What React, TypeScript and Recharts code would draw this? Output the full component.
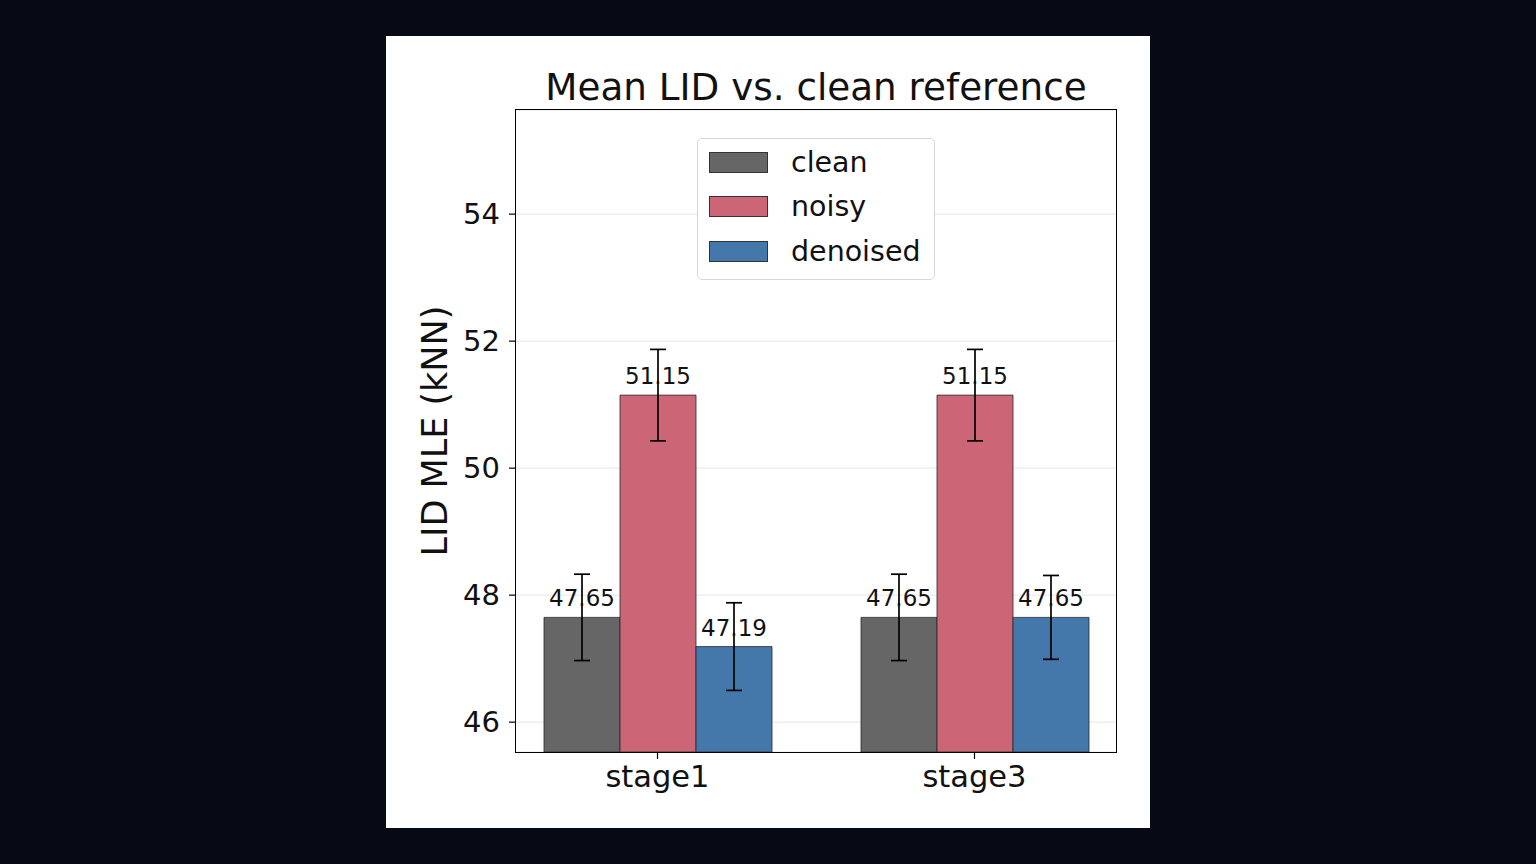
import { BarChart, Bar, XAxis, YAxis, CartesianGrid, ErrorBar, LabelList } from 'recharts';

const stages = ['stage1', 'stage3'];
const cleanValues = [47.65, 47.65];
const noisyValues = [51.15, 51.15];
const denoisedValues = [47.19, 47.65];
const cleanErrors = [0.68, 0.68];
const noisyErrors = [0.72, 0.72];
const denoisedErrors = [0.69, 0.66];
const yTicks = [46, 48, 50, 52, 54];

const seriesNames = ['clean', 'noisy', 'denoised'];
const seriesColors = ['#666666', '#cc6677', '#4477aa'];

const FONT = '"DejaVu Sans", sans-serif';

const chartData = stages.map((stage, i) => ({
  stage,
  clean: cleanValues[i],
  noisy: noisyValues[i],
  denoised: denoisedValues[i],
  cleanErr: cleanErrors[i],
  noisyErr: noisyErrors[i],
  denoisedErr: denoisedErrors[i],
}));

// legend drawn by hand so it doesn't take space from the plot area
const LegendBox = () => (
  <div
    style={{
      position: 'absolute',
      left: 311,
      top: 102,
      width: 238,
      height: 142,
      border: '1px solid #d6d6d6',
      borderRadius: 5,
      background: 'rgba(255,255,255,0.85)',
      boxSizing: 'border-box',
      paddingTop: 1,
      fontFamily: FONT,
    }}
  >
    {seriesNames.map((name, i) => (
      <div key={name} style={{ display: 'flex', alignItems: 'center', height: 44.5 }}>
        <div
          style={{
            width: 59,
            height: 21,
            marginLeft: 11,
            background: seriesColors[i],
            border: '1px solid #333',
            boxSizing: 'border-box',
          }}
        />
        <span style={{ marginLeft: 23, fontSize: 28.5, color: '#111' }}>{name}</span>
      </div>
    ))}
  </div>
);

const YLabel = () => (
  <text
    x={49}
    y={395}
    transform="rotate(-90 49 395)"
    textAnchor="middle"
    dominantBaseline="central"
    fontSize={35}
    fontFamily={FONT}
    fill="#111"
  >
    LID MLE (kNN)
  </text>
);

export default function App() {
  const barLabel = { position: 'top' as const, offset: 11, fontSize: 23, fill: '#111', fontFamily: FONT };
  const fmt = (v: any) => Number(v).toFixed(2);
  return (
    <div style={{ position: 'absolute', left: 0, top: 0, width: 1536, height: 864, background: '#060a14' }}>
      <div style={{ position: 'absolute', left: 386, top: 36, width: 764, height: 792, background: '#fff' }}>
        <div
          style={{
            position: 'absolute',
            left: 130,
            top: 33,
            width: 600,
            textAlign: 'center',
            fontFamily: FONT,
            fontSize: 37.3,
            lineHeight: '37px',
            color: '#111',
            whiteSpace: 'nowrap',
          }}
        >
          Mean LID vs. clean reference
        </div>
        <BarChart
          width={764}
          height={792}
          data={chartData}
          margin={{ top: 74, right: 34, left: 0, bottom: 40 }}
          barGap={0}
          style={{ fontFamily: FONT }}
        >
          <CartesianGrid vertical={false} stroke="#e6e6e6" strokeWidth={1} />
          <XAxis
            dataKey="stage"
            height={36}
            padding={{ left: -17, right: -17 }}
            axisLine={false}
            tickLine={{ stroke: '#000', strokeWidth: 1.2 }}
            tickSize={7}
            tickMargin={6}
            tick={{ fontSize: 30.5, fill: '#111', fontFamily: FONT }}
          />
          <YAxis
            type="number"
            width={130}
            domain={[45.53, 55.64]}
            ticks={yTicks}
            allowDataOverflow
            axisLine={false}
            tickLine={{ stroke: '#000', strokeWidth: 1.2 }}
            tickSize={7}
            tickMargin={9}
            tick={{ fontSize: 29, fill: '#111', fontFamily: FONT }}
            label={{ content: () => <YLabel /> }}
          />
          <Bar dataKey="clean" name="clean" fill={seriesColors[0]} stroke="#2a2a2a" strokeWidth={0.8} barSize={76} isAnimationActive={false}>
            <LabelList dataKey="clean" {...barLabel} formatter={fmt} />
            <ErrorBar dataKey="cleanErr" width={8} stroke="#000" strokeWidth={1.7} direction="y" />
          </Bar>
          <Bar dataKey="noisy" name="noisy" fill={seriesColors[1]} stroke="#2a2a2a" strokeWidth={0.8} barSize={76} isAnimationActive={false}>
            <LabelList dataKey="noisy" {...barLabel} formatter={fmt} />
            <ErrorBar dataKey="noisyErr" width={8} stroke="#000" strokeWidth={1.7} direction="y" />
          </Bar>
          <Bar dataKey="denoised" name="denoised" fill={seriesColors[2]} stroke="#2a2a2a" strokeWidth={0.8} barSize={76} isAnimationActive={false}>
            <LabelList dataKey="denoised" {...barLabel} formatter={fmt} />
            <ErrorBar dataKey="denoisedErr" width={8} stroke="#000" strokeWidth={1.7} direction="y" />
          </Bar>
        </BarChart>
        <div
          style={{
            position: 'absolute',
            left: 129.4,
            top: 73.4,
            width: 601.2,
            height: 643.2,
            border: '1.2px solid #000',
            boxSizing: 'border-box',
            pointerEvents: 'none',
          }}
        />
        <LegendBox />
      </div>
    </div>
  );
}
